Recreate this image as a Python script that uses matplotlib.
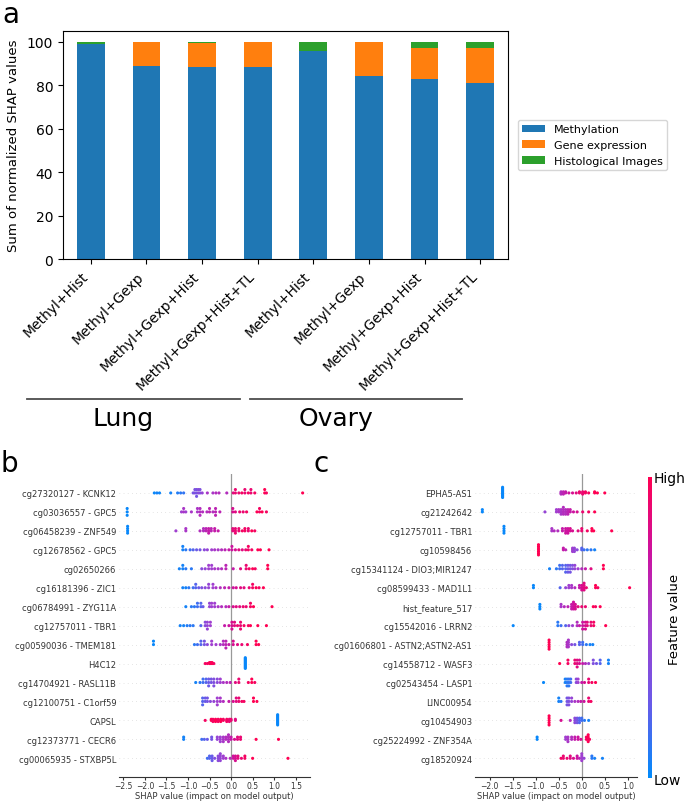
import numpy as np
import matplotlib
matplotlib.use('Agg')
import matplotlib.pyplot as plt
from matplotlib.colors import LinearSegmentedColormap
from matplotlib.lines import Line2D
from matplotlib.cm import ScalarMappable

# ---- panel a : share of SHAP values per modality
combos = ['Methyl+Hist', 'Methyl+Gexp', 'Methyl+Gexp+Hist', 'Methyl+Gexp+Hist+TL',
          'Methyl+Hist', 'Methyl+Gexp', 'Methyl+Gexp+Hist', 'Methyl+Gexp+Hist+TL']
methylation = [98.8, 89.0, 88.2, 88.5, 96.0, 84.5, 82.9, 81.1]
gene_expression = [0.0, 11.0, 11.2, 11.3, 0.0, 15.5, 14.1, 16.3]
histology = [1.2, 0.0, 0.6, 0.2, 4.0, 0.0, 3.0, 2.6]
tissues = ['Lung', 'Ovary']

# ---- panels b / c : beeswarm points, (shap value, feature value 0..1, count)
lung_features = ['cg27320127 - KCNK12', 'cg03036557 - GPC5', 'cg06458239 - ZNF549',
                 'cg12678562 - GPC5', 'cg02650266', 'cg16181396 - ZIC1',
                 'cg06784991 - ZYG11A', 'cg12757011 - TBR1', 'cg00590036 - TMEM181',
                 'H4C12', 'cg14704921 - RASL11B', 'cg12100751 - C1orf59', 'CAPSL',
                 'cg12373771 - CECR6', 'cg00065935 - STXBP5L']
lung_points = [
    [(-1.78, .02, 1), (-1.72, .05, 1), (-1.66, .03, 1), (-1.40, .05, 1), (-1.24, .08, 1), (-1.17, .1, 1),
     (-1.10, .12, 1), (-0.88, .3, 1), (-0.84, .35, 2), (-0.80, .3, 3), (-0.76, .4, 2), (-0.72, .35, 2),
     (-0.67, .45, 1), (-0.55, .55, 1), (-0.42, .55, 1), (-0.35, .6, 1), (-0.28, .6, 1), (-0.10, .6, 1),
     (0.05, .85, 1), (0.10, .9, 2), (0.18, .9, 1), (0.25, .95, 1), (0.32, .9, 2), (0.40, .95, 1),
     (0.46, .9, 2), (0.55, .95, 1), (0.78, 1., 2), (0.82, .95, 1), (1.66, 1., 1)],
    [(-2.41, .02, 3), (-1.15, .5, 1), (-1.10, .55, 2), (-1.05, .5, 1), (-0.92, .55, 1), (-0.78, .55, 2),
     (-0.72, .6, 3), (-0.66, .6, 1), (-0.56, .6, 1), (-0.50, .65, 2), (-0.42, .6, 1), (-0.36, .65, 3),
     (-0.26, .65, 1), (0.04, .8, 2), (0.10, .85, 1), (0.20, .9, 1), (0.28, .9, 1), (0.36, .95, 1),
     (0.60, 1., 1), (0.66, .95, 2), (0.72, 1., 1), (0.82, .95, 1)],
    [(-2.40, .02, 4), (-1.28, .5, 1), (-1.05, .55, 2), (-0.72, .6, 1), (-0.64, .6, 2), (-0.58, .65, 2),
     (-0.52, .7, 3), (-0.46, .65, 2), (-0.38, .7, 2), (-0.30, .7, 1), (0.04, .85, 2), (0.10, .9, 3),
     (0.18, .9, 2), (0.26, .95, 1), (0.32, .95, 2), (0.40, .9, 2), (0.48, 1., 1), (0.55, .95, 1)],
    [(-1.12, .05, 2), (-1.05, .1, 1), (-0.95, .15, 1), (-0.88, .2, 1), (-0.80, .25, 1), (-0.72, .3, 1),
     (-0.62, .4, 1), (-0.55, .45, 1), (-0.45, .5, 1), (-0.38, .55, 1), (-0.30, .55, 1), (-0.22, .6, 1),
     (-0.14, .65, 1), (-0.05, .7, 1), (0.02, .75, 2), (0.10, .8, 1), (0.18, .85, 1), (0.26, .85, 1),
     (0.34, .9, 1), (0.40, .95, 2), (0.48, .95, 1), (0.62, 1., 1), (0.68, 1., 1), (0.88, 1., 1)],
    [(-1.20, .05, 1), (-1.12, .05, 2), (-1.05, .1, 1), (-0.92, .1, 1), (-0.68, .4, 1), (-0.60, .45, 1),
     (-0.52, .5, 2), (-0.45, .5, 2), (-0.38, .55, 1), (-0.30, .55, 1), (-0.22, .6, 1), (-0.12, .65, 2),
     (0.05, .7, 1), (0.22, .85, 1), (0.35, .9, 2), (0.42, .95, 1), (0.50, 1., 1), (0.56, .95, 1),
     (0.85, 1., 2)],
    [(-1.12, .05, 1), (-1.05, .05, 1), (-0.98, .1, 1), (-0.88, .15, 1), (-0.82, .2, 2), (-0.75, .25, 1),
     (-0.68, .35, 1), (-0.60, .4, 1), (-0.52, .45, 2), (-0.42, .5, 2), (-0.35, .55, 1), (-0.25, .6, 1),
     (-0.15, .65, 1), (-0.05, .7, 1), (0.05, .75, 1), (0.12, .8, 1), (0.22, .85, 1), (0.30, .85, 1),
     (0.42, .9, 1), (0.50, .95, 2), (0.58, 1., 1), (0.65, .95, 1), (0.75, 1., 1)],
    [(-1.05, .05, 1), (-0.92, .1, 1), (-0.85, .1, 1), (-0.78, .15, 2), (-0.70, .2, 2), (-0.65, .25, 1),
     (-0.50, .45, 2), (-0.45, .5, 2), (-0.38, .5, 2), (-0.30, .55, 1), (-0.22, .6, 1), (-0.12, .6, 1),
     (-0.05, .7, 1), (0.05, .8, 1), (0.12, .85, 1), (0.20, .85, 1), (0.28, .9, 1), (0.35, .9, 1),
     (0.45, .95, 2), (0.52, 1., 1), (0.95, 1., 1)],
    [(-1.18, .05, 1), (-1.10, .05, 1), (-1.02, .08, 1), (-0.95, .1, 1), (-0.88, .1, 1), (-0.70, .2, 1),
     (-0.60, .4, 2), (-0.55, .45, 3), (-0.48, .5, 2), (-0.15, .7, 1), (-0.05, .75, 1), (0.02, .8, 3),
     (0.08, .85, 2), (0.15, .9, 1), (0.22, .9, 3), (0.30, .95, 1), (0.40, .95, 1), (0.45, 1., 1),
     (0.62, 1., 1), (0.82, 1., 1)],
    [(-1.80, .02, 2), (-0.85, .1, 1), (-0.78, .15, 1), (-0.70, .2, 2), (-0.62, .3, 2), (-0.55, .4, 1),
     (-0.45, .5, 2), (-0.35, .5, 1), (-0.25, .55, 1), (-0.18, .6, 2), (-0.12, .65, 3), (-0.05, .7, 1),
     (0.05, .8, 2), (0.15, .85, 1), (0.25, .9, 1), (0.38, .95, 1), (0.58, 1., 2), (0.64, 1., 1)],
    [(-0.60, .95, 1), (-0.55, .95, 1), (-0.50, 1., 2), (-0.47, .95, 2), (-0.44, 1., 2), (-0.40, .95, 1),
     (0.33, .02, 12)],
    [(-0.82, .05, 1), (-0.72, .1, 1), (-0.65, .15, 2), (-0.58, .2, 2), (-0.52, .25, 3), (-0.46, .3, 2),
     (-0.40, .35, 3), (-0.32, .4, 2), (-0.25, .5, 2), (-0.18, .55, 1), (-0.10, .6, 1), (-0.02, .65, 1),
     (0.10, .85, 1), (0.18, .9, 2), (0.40, .95, 1), (0.48, 1., 2), (0.55, .95, 1)],
    [(-0.66, .2, 3), (-0.60, .25, 2), (-0.55, .3, 2), (-0.48, .4, 1), (-0.40, .45, 1), (-0.32, .5, 3),
     (-0.25, .55, 2), (-0.18, .6, 1), (-0.05, .7, 1), (0.05, .8, 1), (0.12, .85, 2), (0.18, .9, 2),
     (0.25, .95, 1), (0.30, .95, 1), (0.52, 1., 2), (0.60, 1., 1)],
    [(-0.60, .95, 1), (-0.46, 1., 2), (-0.42, .95, 3), (-0.36, 1., 3), (-0.30, .95, 3), (-0.24, 1., 3),
     (-0.18, .95, 2), (-0.10, .95, 3), (-0.04, .9, 3), (0.00, .9, 2), (0.10, .85, 2), (1.08, .02, 10)],
    [(-1.10, .05, 2), (-0.68, .15, 1), (-0.62, .2, 1), (-0.55, .25, 1), (-0.45, .3, 2), (-0.32, .45, 2),
     (-0.25, .5, 3), (-0.18, .55, 3), (-0.12, .6, 2), (-0.06, .6, 4), (0.00, .7, 2), (0.08, .8, 1),
     (0.15, .85, 2), (0.22, .9, 2), (0.58, 1., 1), (1.10, 1., 1)],
    [(-0.55, .15, 1), (-0.50, .2, 2), (-0.44, .25, 3), (-0.38, .35, 1), (-0.30, .4, 3), (-0.25, .45, 4),
     (-0.18, .5, 2), (-0.12, .55, 1), (-0.02, .6, 1), (0.05, .75, 2), (0.10, .8, 3), (0.16, .85, 2),
     (0.24, .9, 1), (0.32, .95, 2), (0.50, 1., 1), (1.32, 1., 1)],
]

ovary_features = ['EPHA5-AS1', 'cg21242642', 'cg12757011 - TBR1', 'cg10598456',
                  'cg15341124 - DIO3;MIR1247', 'cg08599433 - MAD1L1', 'hist_feature_517',
                  'cg15542016 - LRRN2', 'cg01606801 - ASTN2;ASTN2-AS1', 'cg14558712 - WASF3',
                  'cg02543454 - LASP1', 'LINC00954', 'cg10454903', 'cg25224992 - ZNF354A',
                  'cg18520924']
ovary_points = [
    [(-1.72, .02, 10), (-0.45, .6, 3), (-0.40, .65, 3), (-0.35, .7, 2), (-0.28, .75, 1), (-0.20, .8, 1),
     (-0.12, .85, 1), (-0.05, .9, 2), (0.02, .9, 3), (0.08, .95, 2), (0.15, .95, 1), (0.28, 1., 2),
     (0.34, 1., 1), (0.50, 1., 1)],
    [(-2.16, .02, 2), (-0.80, .45, 1), (-0.55, .5, 2), (-0.50, .55, 2), (-0.45, .55, 3), (-0.40, .6, 4),
     (-0.35, .6, 3), (-0.30, .65, 3), (-0.25, .7, 2), (-0.18, .75, 1), (-0.10, .8, 1), (0.02, .9, 1),
     (0.15, .95, 1), (0.28, 1., 1)],
    [(-1.69, .02, 4), (-0.65, .55, 2), (-0.60, .6, 1), (-0.52, .6, 1), (-0.42, .7, 2), (-0.35, .75, 3),
     (-0.30, .75, 3), (-0.25, .8, 2), (-0.20, .8, 1), (-0.08, .85, 1), (0.00, .9, 2), (0.12, .95, 1),
     (0.22, 1., 2), (0.26, 1., 1), (0.65, 1., 1)],
    [(-0.94, 1., 7), (-0.40, .7, 2), (-0.35, .65, 1), (-0.20, .5, 3), (-0.16, .45, 3), (-0.10, .4, 1),
     (0.00, .2, 2), (0.05, .15, 1), (0.12, .1, 1), (0.20, .1, 1), (0.28, .05, 1)],
    [(-0.70, .05, 1), (-0.55, .1, 1), (-0.48, .15, 2), (-0.42, .2, 2), (-0.35, .2, 3), (-0.30, .25, 3),
     (-0.25, .3, 3), (-0.20, .35, 2), (-0.15, .45, 2), (-0.08, .5, 1), (0.00, .6, 1), (0.08, .7, 1),
     (0.20, .85, 1), (0.47, 1., 2)],
    [(-1.05, .02, 2), (-0.47, .2, 1), (-0.35, .45, 1), (-0.28, .5, 2), (-0.22, .55, 2), (-0.15, .6, 1),
     (-0.05, .7, 2), (0.00, .8, 3), (0.05, .85, 4), (0.10, .9, 1), (0.30, 1., 2), (0.35, .95, 1),
     (1.04, 1., 1)],
    [(-0.91, .02, 3), (-0.45, .55, 2), (-0.38, .6, 1), (-0.30, .65, 1), (-0.22, .7, 3), (-0.18, .75, 4),
     (-0.14, .8, 3), (-0.08, .85, 1), (0.00, .9, 1), (0.08, .9, 1), (0.25, 1., 1), (0.30, .95, 1),
     (0.40, 1., 1)],
    [(-1.49, .02, 1), (-0.52, .1, 2), (-0.45, .15, 1), (-0.35, .2, 1), (-0.28, .4, 1), (-0.20, .5, 1),
     (-0.10, .6, 2), (-0.05, .7, 1), (0.02, .75, 3), (0.08, .8, 3), (0.12, .85, 2), (0.20, .9, 2),
     (0.26, .95, 2), (0.52, 1., 1)],
    [(-0.71, 1., 5), (-0.32, .6, 3), (-0.29, .55, 4), (-0.22, .4, 1), (-0.15, .3, 1), (-0.05, .2, 2),
     (0.02, .15, 2), (0.10, .1, 1), (0.18, .05, 1), (0.24, .05, 1)],
    [(-0.48, 1., 1), (-0.30, .95, 2), (-0.15, .9, 2), (-0.10, .85, 3), (-0.05, .8, 2), (0.02, .7, 1),
     (0.08, .6, 1), (0.15, .5, 1), (0.25, .35, 2), (0.32, .3, 1), (0.40, .2, 2), (0.58, .05, 2)],
    [(-0.83, .02, 1), (-0.36, .05, 2), (-0.32, .1, 3), (-0.28, .1, 3), (-0.24, .15, 2), (-0.12, .4, 2),
     (-0.08, .5, 2), (0.00, .7, 1), (0.06, .8, 1), (0.15, .9, 2), (0.22, .95, 1), (0.30, 1., 1)],
    [(-0.50, .05, 2), (-0.45, .1, 1), (-0.32, .3, 3), (-0.28, .35, 3), (-0.22, .45, 2), (-0.15, .55, 1),
     (-0.08, .6, 1), (-0.02, .7, 1), (0.05, .75, 1), (0.15, .9, 2), (0.20, .95, 1)],
    [(-0.71, 1., 5), (-0.45, .8, 1), (-0.25, .6, 1), (-0.15, .4, 3), (-0.10, .3, 3), (-0.05, .2, 3),
     (0.00, .15, 2), (0.06, .1, 1), (0.15, .05, 1)],
    [(-0.97, .02, 2), (-0.35, .5, 2), (-0.30, .55, 3), (-0.22, .6, 2), (-0.15, .7, 2), (-0.08, .75, 2),
     (-0.02, .8, 1), (0.10, .95, 2), (0.14, 1., 4), (0.17, .95, 1)],
    [(-0.45, .95, 1), (-0.40, .9, 2), (-0.32, .9, 1), (-0.25, .85, 2), (-0.18, .8, 1), (-0.10, .75, 2),
     (-0.05, .65, 1), (0.00, .5, 4), (0.05, .45, 1), (0.22, .1, 2), (0.28, .05, 1), (0.45, .05, 1)],
]

shap_cmap = LinearSegmentedColormap.from_list(
    'shap_red_blue', ['#008bfb', '#6a5ae8', '#a03fd0', '#cc12a0', '#ff0052'])


def swarm_offsets(xs, row_height=0.4, nbins=100):
    # same binning / stacking rule as shap's summary plot
    quant = np.round(nbins * (xs - xs.min()) / (xs.max() - xs.min() + 1e-8))
    inds = np.argsort(quant, kind='stable')
    ys = np.zeros(len(xs))
    layer, last_bin = 0, -1
    for ind in inds:
        if quant[ind] != last_bin:
            layer = 0
        ys[ind] = np.ceil(layer / 2) * ((layer % 2) * 2 - 1)
        layer += 1
        last_bin = quant[ind]
    ys *= 0.9 * (row_height / np.max(ys + 1))
    return ys


def shap_panel(ax, features, points, xlim, xticks):
    n = len(features)
    for i, row in enumerate(points):
        pos = n - 1 - i
        counts = [p[2] for p in row]
        xs = np.repeat([p[0] for p in row], counts)
        cs = np.repeat([p[1] for p in row], counts)
        ax.axhline(pos, color='#cccccc', lw=0.5, dashes=(1, 5), zorder=-1)
        ax.scatter(xs, pos + swarm_offsets(xs), c=cs, cmap=shap_cmap, vmin=0, vmax=1,
                   s=5, linewidths=0, zorder=3)
    ax.axvline(0, color='#999999', lw=0.9, zorder=-1)
    ax.set_yticks(range(n))
    ax.set_yticklabels(features[::-1], fontsize=6, color='#333333')
    ax.set_ylim(-1, n)
    ax.set_xlim(xlim)
    ax.set_xticks(xticks)
    ax.tick_params('y', length=0, pad=2)
    ax.tick_params('x', labelsize=5.5, length=2, pad=1, color='#333333', labelcolor='#333333')
    for side in ['top', 'right', 'left']:
        ax.spines[side].set_visible(False)
    ax.spines['bottom'].set_color('#333333')
    ax.spines['bottom'].set_linewidth(0.8)
    ax.set_xlabel('SHAP value (impact on model output)', fontsize=6, labelpad=0.5, color='#333333')


fig = plt.figure(figsize=(6.85, 8.04), dpi=100)

# Panel a
ax = fig.add_axes([0.092, 0.6766, 0.6496, 0.2836])
x = np.arange(len(combos))
ax.bar(x, methylation, 0.5, color='#1f77b4', label='Methylation')
ax.bar(x, gene_expression, 0.5, bottom=methylation, color='#ff7f0e', label='Gene expression')
ax.bar(x, histology, 0.5, bottom=np.add(methylation, gene_expression), color='#2ca02c',
       label='Histological Images')
ax.set_xlim(-0.5, len(combos) - 0.5)
ax.set_ylim(0, 105)
ax.set_xticks(x)
ax.set_xticklabels(combos, rotation=45, ha='right', fontsize=10)
ax.tick_params(axis='y', labelsize=10)
ax.set_ylabel('Sum of normalized SHAP values', fontsize=9.5, labelpad=5)
ax.legend(loc='center left', bbox_to_anchor=(1.01, 0.5), fontsize=8)

# tissue brackets under the bars
for name, (x0, x1), xt in zip(tissues, [(0.039, 0.350), (0.365, 0.675)], [0.179, 0.491]):
    fig.add_artist(Line2D([x0, x1], [0.5025, 0.5025], color='0.3', lw=1.3))
    fig.text(xt, 0.4701, name, fontsize=18, ha='center', va='baseline')

# Panels b and c
ax_b = fig.add_axes([0.1737, 0.032, 0.2788, 0.3772])
shap_panel(ax_b, lung_features, lung_points, (-2.6, 1.83), np.arange(-2.5, 1.51, 0.5))
ax_c = fig.add_axes([0.6934, 0.032, 0.2365, 0.3772])
shap_panel(ax_c, ovary_features, ovary_points, (-2.32, 1.20), np.arange(-2.0, 1.01, 0.5))

# colour bar
cax = fig.add_axes([0.946, 0.0305, 0.0058, 0.375])
cb = fig.colorbar(ScalarMappable(cmap=shap_cmap), cax=cax, ticks=[0, 1])
cb.set_ticklabels(['Low', 'High'])
cb.ax.tick_params(labelsize=10, length=0, pad=1.5)
cb.outline.set_visible(False)
fig.text(0.985, 0.229, 'Feature value', rotation=90, fontsize=9.5, ha='center', va='center')

# panel letters
fig.text(0.003, 0.972, 'a', fontsize=20, va='baseline')
fig.text(0.001, 0.4129, 'b', fontsize=20, va='baseline')
fig.text(0.458, 0.4129, 'c', fontsize=20, va='baseline')

fig.savefig('out.png', dpi=100)
